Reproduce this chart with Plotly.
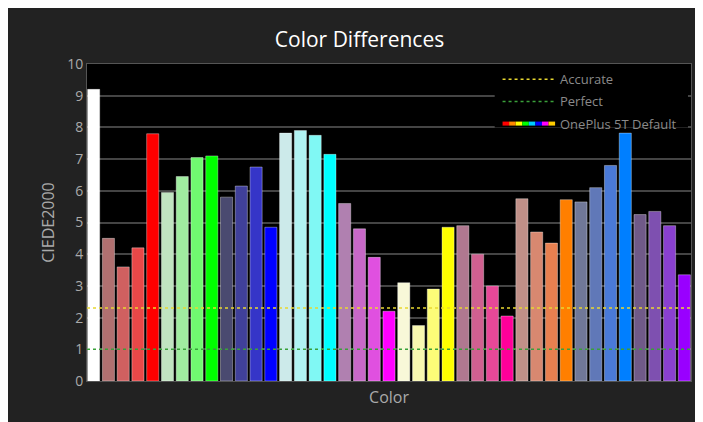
import plotly.graph_objects as go

values = [9.2,
          4.5, 3.6, 4.2, 7.8,
          5.95, 6.45, 7.05, 7.1,
          5.8, 6.15, 6.75, 4.85,
          7.82, 7.9, 7.75, 7.15,
          5.6, 4.8, 3.9, 2.2,
          3.1, 1.75, 2.9, 4.85,
          4.9, 4.0, 3.0, 2.05,
          5.75, 4.7, 4.35, 5.72,
          5.65, 6.1, 6.8, 7.82,
          5.25, 5.35, 4.9, 3.35]
colors = ["#ffffff",
          "#b07070", "#d06060", "#e84848", "#ff0000",
          "#c0e4c0", "#a0eca0", "#70f870", "#00ff00",
          "#4a4a70", "#40409a", "#3535c8", "#0000ff",
          "#cceaea", "#b0f2f2", "#80f8f4", "#00ffff",
          "#b080b0", "#c868c8", "#e050e0", "#ff00ff",
          "#f8f8d8", "#f8f8b0", "#fcfc78", "#ffff00",
          "#b07890", "#d06090", "#e84898", "#ff0099",
          "#c09088", "#d88870", "#e88050", "#ff7f00",
          "#707898", "#6078b8", "#4a7ad8", "#007fff",
          "#705a88", "#7e50b0", "#8a40d0", "#9900ff"]
accurate = 2.3
perfect = 1.0

x = list(range(len(values)))
fig = go.Figure()
fig.add_bar(x=x, y=values, marker=dict(color=colors, line=dict(color="rgba(255,255,255,0.35)", width=1)),
            width=0.82, showlegend=False)
fig.add_hline(y=accurate, line=dict(color="#e8d830", width=1.5, dash="dot"))
fig.add_hline(y=perfect, line=dict(color="#3aa03a", width=1.5, dash="dot"))

# hand-made legend
fig.add_shape(type="rect", xref="paper", yref="paper", x0=0.675, x1=0.995, y0=0.8, y1=0.995,
              fillcolor="black", line_width=0, layer="above")
legend = [("Accurate", "#e8d830"), ("Perfect", "#3aa03a"), ("OnePlus 5T Default", None)]
rainbow = ["#ff0000", "#ff8800", "#ffff00", "#00ff00", "#00ccff", "#0000ff", "#ff00ff", "#ffcc00"]
for i, (name, c) in enumerate(legend):
    yy = 0.952 - i * 0.07
    if c:
        fig.add_shape(type="line", xref="paper", yref="paper", x0=0.688, x1=0.775, y0=yy, y1=yy,
                      line=dict(color=c, width=1.5, dash="dot"), layer="above")
    else:
        n = len(rainbow)
        for j, rc in enumerate(rainbow):
            fig.add_shape(type="line", xref="paper", yref="paper",
                          x0=0.688 + 0.087 * j / n, x1=0.688 + 0.087 * (j + 1) / n, y0=yy, y1=yy,
                          line=dict(color=rc, width=4), layer="above")
    fig.add_annotation(x=0.78, y=yy, xref="paper", yref="paper", text=name, showarrow=False,
                       xanchor="left", yanchor="middle", font=dict(color="#8a8a8a", size=13))

fig.update_layout(
    width=703, height=422,
    margin=dict(l=79, r=20, t=56, b=49),
    paper_bgcolor="#222222", plot_bgcolor="black",
    font=dict(family="Open Sans", color="#aaaaaa"),
    title=dict(text="Color Differences", x=0.5, y=0.925, xanchor="center", yanchor="middle",
               font=dict(size=21, color="white")),
)
fig.update_xaxes(title=dict(text="Color", font=dict(size=16, color="#aaaaaa"), standoff=10),
                 showticklabels=False, automargin=False,
                 range=[-0.45, len(values) - 0.55], showgrid=False, zeroline=False,
                 showline=True, linecolor="#555555", mirror=True)
fig.update_yaxes(title=dict(text="CIEDE2000", font=dict(size=16, color="#aaaaaa"), standoff=8),
                 range=[0, 10], dtick=1, automargin=False,
                 gridcolor="#444444", gridwidth=1.5, zeroline=False, tickfont=dict(size=14, color="#aaaaaa"),
                 showline=True, linecolor="#555555", mirror=True)

fig.write_html("out.html")
